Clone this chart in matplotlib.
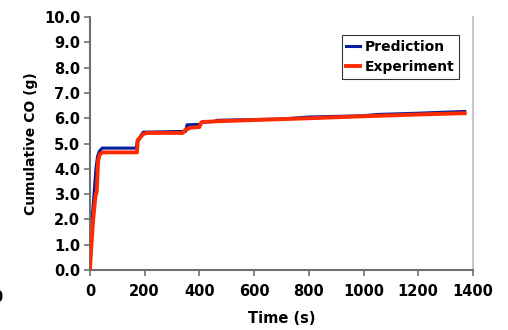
import matplotlib
matplotlib.use("Agg")
import matplotlib.pyplot as plt

# cumulative CO, model vs measured
t_pred = [0, 3, 8, 15, 22, 28, 35, 45, 170, 173, 180, 185, 195, 350, 355, 405, 410,
          455, 465, 600, 700, 800, 1000, 1050, 1200, 1370]
co_pred = [0, 1.0, 2.0, 3.0, 4.0, 4.5, 4.7, 4.82, 4.82, 5.1, 5.15, 5.3, 5.45, 5.48, 5.74,
           5.76, 5.85, 5.87, 5.92, 5.95, 5.97, 6.05, 6.1, 6.15, 6.2, 6.27]

t_exp = [0, 5, 12, 20, 25, 30, 35, 45, 172, 175, 185, 195, 210, 340, 350, 360, 365, 400,
         405, 410, 460, 600, 800, 1000, 1200, 1370]
co_exp = [0, 0.9, 2.0, 2.9, 3.1, 4.3, 4.55, 4.65, 4.65, 5.15, 5.25, 5.38, 5.42, 5.42,
          5.56, 5.58, 5.63, 5.65, 5.8, 5.85, 5.88, 5.93, 6.0, 6.08, 6.15, 6.2]

plt.rcParams['font.family'] = ['DejaVu Sans']
plt.rcParams['font.weight'] = 'bold'

fig = plt.figure(figsize=(5.08, 3.3), dpi=100)
ax = fig.add_axes([0.177, 0.182, 0.754, 0.766])

ax.plot(t_pred, co_pred, color='#001f9c', lw=2.2, label='Prediction', zorder=2)
ax.plot(t_exp, co_exp, color='#ff2a00', lw=2.8, label='Experiment', zorder=3)

ax.set_xlim(0, 1400)
ax.set_ylim(0, 10)
ax.set_xticks(range(0, 1401, 200))
ax.set_yticks([i for i in range(11)])
ax.set_yticklabels(['%.1f' % i for i in range(11)])

ax.spines['top'].set_visible(False)
ax.spines['left'].set_color('#707070')
ax.spines['bottom'].set_color('#707070')
ax.spines['left'].set_linewidth(1.5)
ax.spines['bottom'].set_linewidth(1.5)
ax.spines['right'].set_color('#c8c8c8')
ax.spines['right'].set_linewidth(1.5)
ax.tick_params(direction='out', length=4, width=1.2, color='#707070',
               labelsize=10.5)
ax.tick_params(axis='x', pad=6)
ax.tick_params(axis='y', pad=3)
for lab in ax.get_xticklabels() + ax.get_yticklabels():
    lab.set_fontweight('bold')

ax.set_xlabel('Time (s)', fontsize=10.5, fontweight='bold', labelpad=9)
ax.set_ylabel('Cumulative CO (g)', fontsize=10, fontweight='bold', labelpad=4)

leg = ax.legend(loc='upper left', bbox_to_anchor=(0.657, 0.93), fontsize=10,
                frameon=True, fancybox=False, handlelength=1.0, handletextpad=0.3,
                borderpad=0.35, labelspacing=0.45, borderaxespad=0)
leg.get_frame().set_edgecolor('black')
leg.get_frame().set_linewidth(0.8)
for txt in leg.get_texts():
    txt.set_fontweight('bold')

fig.text(-0.006, 0.097, '0', ha='center', va='center', fontsize=10.5, fontweight='bold')

fig.savefig('out.png', dpi=100)
